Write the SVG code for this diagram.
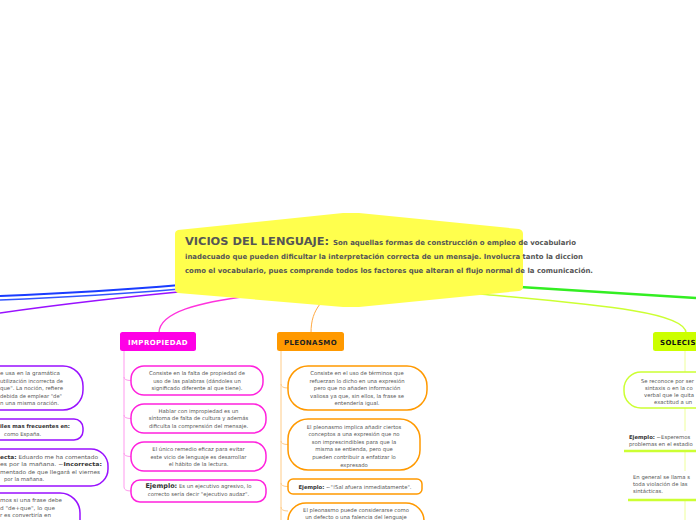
<svg xmlns="http://www.w3.org/2000/svg" width="696" height="520" viewBox="0 0 696 520">
<style>
.t{font-family:"DejaVu Sans",Verdana,sans-serif;font-size:5.3px;fill:#555;}
.c{text-anchor:middle;}
.e{text-anchor:end;}
.b{font-weight:bold;fill:#333;}
.hd{font-family:"DejaVu Sans",Verdana,sans-serif;font-size:7px;font-weight:bold;text-anchor:middle;letter-spacing:0.4px;}
.ct{font-family:"DejaVu Sans",Verdana,sans-serif;font-weight:bold;fill:#555;}
.pm{fill:#fff;stroke:#ff22dd;stroke-width:1.5;}
.po{fill:#fff;stroke:#ff9900;stroke-width:1.5;}
.pp{fill:#fff;stroke:#9911ff;stroke-width:1.5;}
.ps{fill:#fff;stroke:#ccff33;stroke-width:1.5;}
.cn{fill:none;}
</style>
<rect width="696" height="520" fill="#fff"/>
<g id="connectors">
<path class="cn" d="M0,296 Q100,292 180,285" stroke="#1a3cff" stroke-width="2"/>
<path class="cn" d="M0,300 Q100,296 180,289" stroke="#3355ff" stroke-width="1.6"/>
<path class="cn" d="M0,313 Q90,300 200,290" stroke="#9911ff" stroke-width="1.5"/>
<path class="cn" d="M250,296 C200,302 159,312 159,333" stroke="#ff33dd" stroke-width="1.3"/>
<path class="cn" d="M320,304 C314,312 311,320 311,333" stroke="#ffaa44" stroke-width="1"/>
<path class="cn" d="M480,294 C600,305 686,312 686,333" stroke="#ccff33" stroke-width="1.5"/>
<path class="cn" d="M520,287 Q600,292 696,298" stroke="#33ee22" stroke-width="2.5"/>
<path class="cn" d="M124,351 L124,487 Q124,491 131,491 M124,377 Q124,380.5 131,380.5 M124,415 Q124,418.5 131,418.5 M124,453 Q124,456.5 131,456.5" stroke="#ff99ee" stroke-width="1"/>
<path class="cn" d="M281,351 L281,520 M281,384 Q281,388 288,388 M281,441 Q281,444.5 288,444.5 M281,483 Q281,486.5 288,486.5 M281,507 Q281,511 288,511" stroke="#ffcc88" stroke-width="1"/>
<path class="cn" d="M685,351 L685,520" stroke="#eeff99" stroke-width="1"/>
</g>
<g id="central">
<path d="M178,230 L343,213 L359,213 L519,229 Q523,230 523,234 L523,287 Q523,290 519,291 L359,307 L343,307 L178,293 Q175,292 175,289 L175,234 Q175,231 178,230 Z" fill="#ffff4d"/>
<text class="ct" x="185" y="245" font-size="10.5" textLength="144" lengthAdjust="spacingAndGlyphs">VICIOS DEL LENGUAJE:</text>
<text class="ct" x="333" y="245" font-size="7" textLength="243" lengthAdjust="spacingAndGlyphs">Son aquellas formas de construcción o empleo de vocabulario</text>
<text class="ct" x="185" y="259" font-size="7" textLength="398" lengthAdjust="spacingAndGlyphs">inadecuado que pueden dificultar la interpretación correcta de un mensaje. Involucra tanto la diccion</text>
<text class="ct" x="185" y="272.5" font-size="7" textLength="408" lengthAdjust="spacingAndGlyphs">como el vocabulario, pues comprende todos los factores que alteran el flujo normal de la comunicación.</text>
</g>
<g id="impropiedad">
<rect x="120" y="332" width="76" height="19" rx="2.5" fill="#ff00e6"/>
<text class="hd" x="158" y="344.5" fill="#fff">IMPROPIEDAD</text>
</g>
<g id="imp1">
<rect class="pm" x="131" y="366" width="132" height="29" rx="13"/>
<text class="t c" x="197" y="375">Consiste en la falta de propiedad de</text>
<text class="t c" x="197" y="382.7">uso de las palabras (dándoles un</text>
<text class="t c" x="197" y="390.4">significado diferente al que tiene).</text>
</g>
<g id="imp2">
<rect class="pm" x="131" y="404" width="135" height="29" rx="13"/>
<text class="t c" x="198.5" y="412.5">Hablar con impropiedad es un</text>
<text class="t c" x="198.5" y="420.2">síntoma de falta de cultura y además</text>
<text class="t c" x="198.5" y="427.9">dificulta la comprensión del mensaje.</text>
</g>
<g id="imp3">
<rect class="pm" x="131" y="442" width="135" height="29" rx="13"/>
<text class="t c" x="198.5" y="451">El único remedio eficaz para evitar</text>
<text class="t c" x="198.5" y="458.6">este vicio de lenguaje es desarrollar</text>
<text class="t c" x="198.5" y="466.2">el hábito de la lectura.</text>
</g>
<g id="imp4">
<rect class="pm" x="131" y="480" width="135" height="22" rx="9"/>
<text class="t c" x="198.5" y="488.3"><tspan class="b" font-size="6.5" fill="#111">Ejemplo:</tspan> Es un ejecutivo agresivo, lo</text>
<text class="t c" x="198.5" y="496.3">correcto sería decir "ejecutivo audaz".</text>
</g>
<g id="pleonasmo">
<rect x="277" y="332" width="67" height="19" rx="2.5" fill="#ff9900"/>
<text class="hd" x="310.5" y="344.5" fill="#222">PLEONASMO</text>
</g>
<g id="pleo1">
<rect class="po" x="288" y="366" width="139" height="44" rx="20"/>
<text class="t c" x="357" y="375">Consiste en el uso de términos que</text>
<text class="t c" x="357" y="382.6">refuerzan lo dicho en una expresión</text>
<text class="t c" x="357" y="390.2">pero que no añaden información</text>
<text class="t c" x="357" y="397.8">valiosa ya que, sin ellos, la frase se</text>
<text class="t c" x="357" y="405.4">entendería igual.</text>
</g>
<g id="pleo2">
<rect class="po" x="288" y="419" width="132" height="51" rx="20"/>
<text class="t c" x="354" y="428.5">El pleonasmo implica añadir ciertos</text>
<text class="t c" x="354" y="436.1">conceptos a una expresión que no</text>
<text class="t c" x="354" y="443.7">son imprescindibles para que la</text>
<text class="t c" x="354" y="451.3">misma se entienda, pero que</text>
<text class="t c" x="354" y="458.9">pueden contribuir a enfatizar lo</text>
<text class="t c" x="354" y="466.5">expresado</text>
</g>
<g id="pleo3">
<rect class="po" x="288" y="479" width="134" height="15" rx="5"/>
<text class="t c" x="355" y="488.6"><tspan class="b">Ejemplo:</tspan> ~"!Sal afuera inmediatamente".</text>
</g>
<g id="pleo4">
<rect class="po" x="288" y="503" width="136" height="40" rx="18"/>
<text class="t c" x="356" y="512">El pleonasmo puede considerarse como</text>
<text class="t c" x="356" y="519.3">un defecto o una falencia del lenguaje</text>
</g>
<g id="solecismo">
<rect x="653" y="332" width="60" height="19" rx="2.5" fill="#ccff00"/>
<text class="hd" x="660" y="344.5" fill="#111" style="text-anchor:start">SOLECISMO</text>
</g>
<g id="sol1">
<rect class="ps" x="624" y="372" width="120" height="36" rx="17"/>
<text class="t" x="641" y="382.5">Se reconoce por ser</text>
<text class="t" x="645" y="389.5">sintaxis o en la co</text>
<text class="t" x="644" y="396.5">verbal que le quita</text>
<text class="t" x="654" y="403.5">exactitud a un</text>
</g>
<g id="sol2">
<rect x="624" y="431" width="72" height="19" fill="#fff"/>
<text class="t" x="629" y="438.5"><tspan class="b" fill="#111">Ejemplo:</tspan> ~Esperemos</text>
<text class="t" x="629" y="445.5">problemas en el estadio</text>
<line x1="624" y1="451" x2="696" y2="451" stroke="#ccff33" stroke-width="2.5"/>
</g>
<g id="sol3">
<rect x="628" y="471" width="68" height="28" fill="#fff"/>
<text class="t" x="633" y="478.5">En general se llama s</text>
<text class="t" x="633" y="485.5">toda violación de las</text>
<text class="t" x="633" y="492.5">sintácticas.</text>
<line x1="628" y1="500" x2="696" y2="500" stroke="#ccff33" stroke-width="2.5"/>
</g>
<g id="left1">
<rect class="pp" x="-40" y="366" width="123" height="44" rx="20"/>
<text class="t" x="0" y="375" textLength="60" lengthAdjust="spacingAndGlyphs">e usa en la gramática</text>
<text class="t" x="0" y="382.5" textLength="63" lengthAdjust="spacingAndGlyphs">utilización incorrecta de</text>
<text class="t" x="0" y="390" textLength="63" lengthAdjust="spacingAndGlyphs">que". La noción, refiere</text>
<text class="t" x="0" y="397.5" textLength="62" lengthAdjust="spacingAndGlyphs">debida de emplear "de"</text>
<text class="t" x="0" y="405" textLength="59" lengthAdjust="spacingAndGlyphs">n una misma oración.</text>
</g>
<g id="left2">
<rect class="pp" x="-40" y="419" width="123" height="21" rx="9"/>
<text class="t b" x="0" y="428" textLength="70" lengthAdjust="spacingAndGlyphs">iles mas frecuentes en:</text>
<text class="t" x="4" y="435.5">como España.</text>
</g>
<g id="left3">
<rect class="pp" x="-40" y="449" width="148" height="37" rx="17"/>
<text class="t" x="0" y="459" textLength="98" lengthAdjust="spacingAndGlyphs"><tspan class="b">ecta:</tspan> Eduardo me ha comentado</text>
<text class="t" x="0" y="466" textLength="102" lengthAdjust="spacingAndGlyphs">es por la mañana. ~<tspan class="b">Incorrecta:</tspan></text>
<text class="t" x="0" y="473.5" textLength="100" lengthAdjust="spacingAndGlyphs">mentado de que llegará el viernes</text>
<text class="t" x="4" y="481">por la mañana.</text>
</g>
<g id="left4">
<rect class="pp" x="-40" y="493" width="120" height="50" rx="20"/>
<text class="t" x="0" y="502" textLength="62" lengthAdjust="spacingAndGlyphs">mos si una frase debe</text>
<text class="t" x="0" y="509.5" textLength="55" lengthAdjust="spacingAndGlyphs">d "de+que", lo que</text>
<text class="t" x="0" y="517" textLength="51" lengthAdjust="spacingAndGlyphs">r es  convertiría en</text>
</g>
</svg>
